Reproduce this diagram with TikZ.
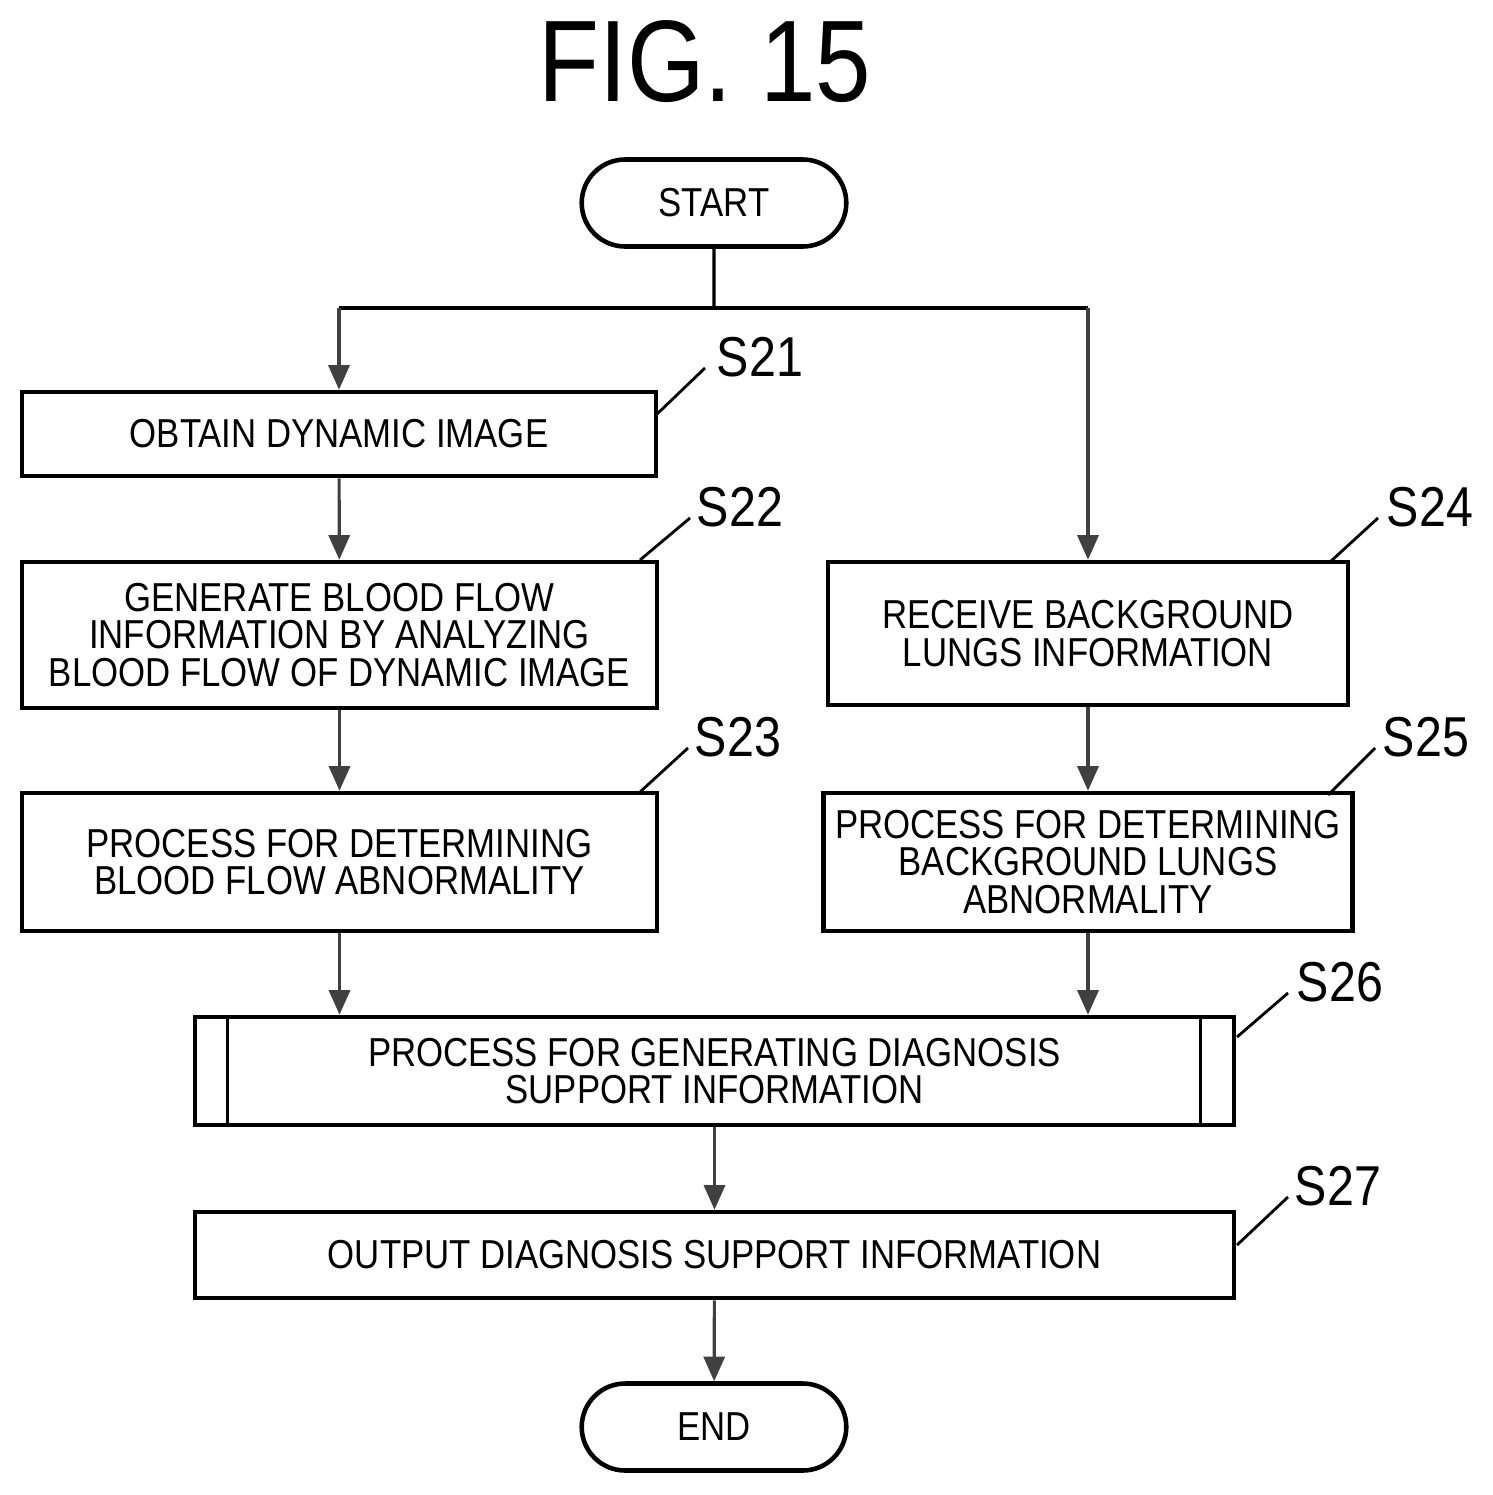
\documentclass[tikz,border=0pt]{standalone}
\usepackage{fontspec}
\setmainfont{Liberation Sans}[FakeStretch=0.86]
\usetikzlibrary{arrows.meta,shapes.misc}
\begin{document}
\begin{tikzpicture}[
  box/.style={rectangle, draw, line width=1.3pt, align=center, font=\fontsize{11.5}{10.6}\selectfont},
  term/.style={rounded rectangle, draw, line width=1.3pt, minimum width=2.88cm, minimum height=0.87cm, font=\fontsize{11.5}{12}\selectfont},
  steplabel/.style={font=\fontsize{16}{16}\selectfont},
  arr/.style={-{Triangle[length=7pt,width=6pt]}, line width=0.9pt, draw=black!75},
  lead/.style={line width=0.8pt}]
\useasboundingbox (0,0) rectangle (14.93,-14.95);
\node[font=\fontsize{33}{33}\selectfont] (title) at (7.05,-0.62) {FIG. 15};
\node[term] (start) at (7.14,-2.03) {START};
\node[box, minimum width=6.34cm, minimum height=0.84cm] (s21) at (3.39,-4.34) {OBTAIN DYNAMIC IMAGE};
\node[box, minimum width=6.35cm, minimum height=1.46cm] (s22) at (3.395,-6.35) {GENERATE BLOOD FLOW\\INFORMATION BY ANALYZING\\BLOOD FLOW OF DYNAMIC IMAGE};
\node[box, minimum width=6.35cm, minimum height=1.38cm] (s23) at (3.395,-8.62) {PROCESS FOR DETERMINING\\BLOOD FLOW ABNORMALITY};
\node[box, minimum width=5.2cm, minimum height=1.43cm] (s24) at (10.88,-6.335) {RECEIVE BACKGROUND\\LUNGS INFORMATION};
\node[box, minimum width=5.2cm, minimum height=1.38cm] (s25) at (10.88,-8.62) {PROCESS FOR DETERMINING\\BACKGROUND LUNGS\\ABNORMALITY};
\node[box, minimum width=10.39cm, minimum height=1.08cm] (s26) at (7.145,-10.71) {PROCESS FOR GENERATING DIAGNOSIS\\SUPPORT INFORMATION};
\node[box, minimum width=10.39cm, minimum height=0.86cm] (s27) at (7.145,-12.55) {OUTPUT DIAGNOSIS SUPPORT INFORMATION};
\node[term] (end) at (7.14,-14.27) {END};
% sub-process bars
\draw[line width=1pt] ([xshift=0.35cm]s26.north west) -- ([xshift=0.35cm]s26.south west);
\draw[line width=1pt] ([xshift=-0.36cm]s26.north east) -- ([xshift=-0.36cm]s26.south east);
% step labels
\node[steplabel] (l21) at (7.6,-3.57) {S21};
\node[steplabel] (l22) at (7.4,-5.07) {S22};
\node[steplabel] (l23) at (7.38,-7.37) {S23};
\node[steplabel] (l24) at (14.3,-5.07) {S24};
\node[steplabel] (l25) at (14.26,-7.37) {S25};
\node[steplabel] (l26) at (13.4,-9.82) {S26};
\node[steplabel] (l27) at (13.38,-11.86) {S27};
\draw[lead] (6.56,-4.15) -- (7.05,-3.68);
\draw[lead] (6.40,-5.60) -- (6.90,-5.18);
\draw[lead] (6.40,-7.92) -- (6.88,-7.48);
\draw[lead] (13.30,-5.62) -- (13.78,-5.18);
\draw[lead] (13.28,-7.95) -- (13.75,-7.48);
\draw[lead] (12.37,-10.37) -- (12.88,-9.93);
\draw[lead] (12.37,-12.45) -- (12.88,-11.97);
% connectors
\coordinate (split) at (7.14,-3.08);
\coordinate (splitL) at (3.39,-3.08);
\coordinate (splitR) at (10.88,-3.08);
\draw[line width=0.9pt] (start) -- (split);
\draw[line width=0.9pt] (splitL) -- (splitR);
\draw[arr] (splitL) -- (s21);
\draw[arr] (splitR) -- (s24);
\draw[arr] (s21) -- (s22);
\draw[arr] (s22) -- (s23);
\draw[arr] (s24) -- (s25);
\draw[arr] (s23) -- (s23 |- s26.north);
\draw[arr] (s25) -- (s25 |- s26.north);
\draw[arr] (s26) -- (s27);
\draw[arr] (s27) -- (end);
\end{tikzpicture}
\end{document}
